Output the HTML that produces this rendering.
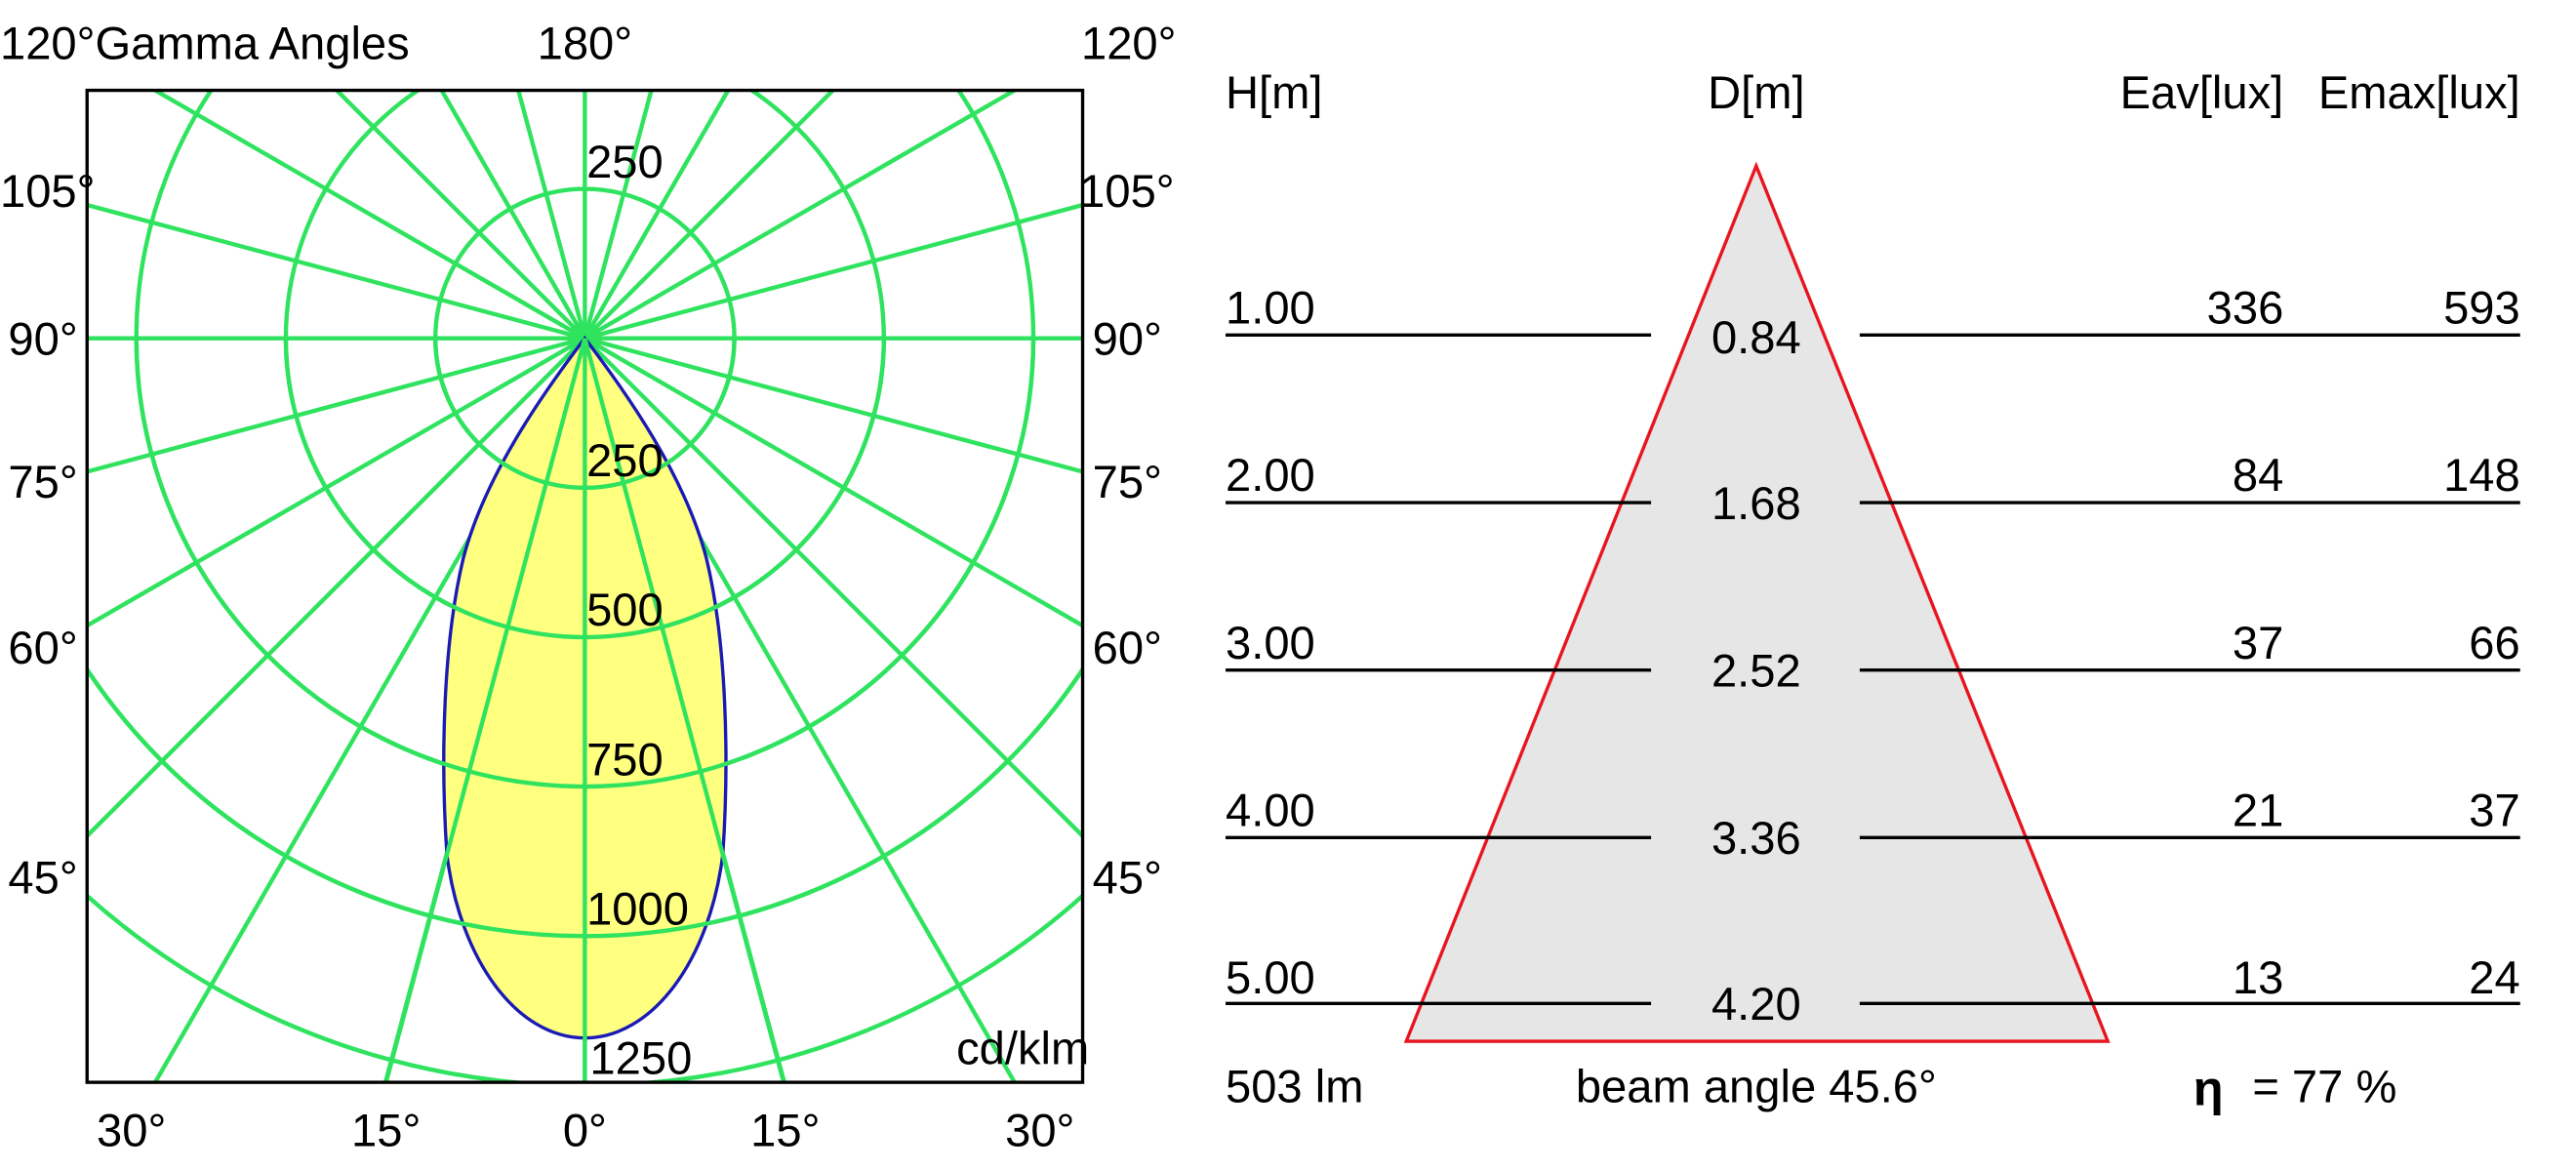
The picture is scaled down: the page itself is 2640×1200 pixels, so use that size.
<!DOCTYPE html>
<html><head><meta charset="utf-8"><style>
html,body{margin:0;padding:0;background:#fff;overflow:hidden;width:2640px;height:1200px;}
svg{display:block;}
text{font-family:"Liberation Sans",Arial,sans-serif;font-size:28px;fill:#000;}
</style></head><body>
<svg width="2640" height="1200" viewBox="0 0 1568 713" preserveAspectRatio="none" xmlns="http://www.w3.org/2000/svg">
<defs><clipPath id="c"><rect x="53" y="55" width="606" height="604"/></clipPath></defs>
<rect width="1568" height="713" fill="#fff"/>
<g clip-path="url(#c)" stroke="#2fe35f" stroke-width="2.6" fill="none">
<circle cx="356" cy="206" r="91"/><circle cx="356" cy="206" r="182"/><circle cx="356" cy="206" r="273"/><circle cx="356" cy="206" r="364"/><circle cx="356" cy="206" r="455"/>
<g id="sp">
<line x1="356" y1="206" x2="356" y2="1206"/>
<line x1="356" y1="206" x2="1356" y2="206"/>
<line x1="356" y1="206" x2="-644" y2="206"/>
<line x1="356" y1="206" x2="356" y2="-794"/>
</g>
<use href="#sp" transform="rotate(15 356 206)"/><use href="#sp" transform="rotate(30 356 206)"/><use href="#sp" transform="rotate(45 356 206)"/><use href="#sp" transform="rotate(60 356 206)"/><use href="#sp" transform="rotate(75 356 206)"/>
</g>
<path d="M356,206 C330,240 295,290 282,340 C270,390 268,460 272,520 C280,585 315,632 356,632 C397,632 432,585 440,520 C444,460 442,390 430,340 C417,290 382,240 356,206 Z" fill="#ffff80" stroke="#1a1ab4" stroke-width="2"/>
<g clip-path="url(#c)" stroke="#2fe35f" stroke-width="2.6" fill="none">
<line x1="356" y1="206" x2="356" y2="660"/>
<line x1="356" y1="206" x2="235" y2="659"/><line x1="356" y1="206" x2="477" y2="659"/>
<path d="M265,206 A91,91 0 0 0 447,206"/>
<path d="M174,206 A182,182 0 0 0 538,206"/>
<path d="M83,206 A273,273 0 0 0 629,206"/>
<circle cx="356" cy="206" r="364"/>
</g>
<rect x="53" y="55" width="606" height="604" fill="none" stroke="#000" stroke-width="2"/>
<text x="357" y="108">250</text><text x="357" y="290">250</text><text x="357" y="381">500</text><text x="357" y="472">750</text><text x="357" y="563">1000</text><text x="359" y="654">1250</text>
<text x="663" y="648" text-anchor="end">cd/klm</text>
<text x="0" y="36">120°Gamma Angles</text><text x="356" y="36" text-anchor="middle">180°</text><text x="716" y="36" text-anchor="end">120°</text>
<text x="0" y="126">105°</text><text x="5" y="216">90°</text><text x="5" y="303">75°</text><text x="5" y="404">60°</text><text x="5" y="544">45°</text>
<text x="657" y="126">105°</text><text x="665" y="216">90°</text><text x="665" y="303">75°</text><text x="665" y="404">60°</text><text x="665" y="544">45°</text>
<text x="80" y="698" text-anchor="middle">30°</text><text x="235" y="698" text-anchor="middle">15°</text><text x="356" y="698" text-anchor="middle">0°</text><text x="478" y="698" text-anchor="middle">15°</text><text x="633" y="698" text-anchor="middle">30°</text>
<polygon points="1069,101 856,634 1283,634" fill="#e6e6e6" stroke="#e8141e" stroke-width="2"/>
<g stroke="#000" stroke-width="2">
<line x1="746" y1="204" x2="1005" y2="204"/><line x1="1132" y1="204" x2="1534" y2="204"/>
<line x1="746" y1="306" x2="1005" y2="306"/><line x1="1132" y1="306" x2="1534" y2="306"/>
<line x1="746" y1="408" x2="1005" y2="408"/><line x1="1132" y1="408" x2="1534" y2="408"/>
<line x1="746" y1="510" x2="1005" y2="510"/><line x1="1132" y1="510" x2="1534" y2="510"/>
<line x1="746" y1="611" x2="1005" y2="611"/><line x1="1132" y1="611" x2="1534" y2="611"/>
</g>
<text x="746" y="66">H[m]</text><text x="1069" y="66" text-anchor="middle">D[m]</text><text x="1390" y="66" text-anchor="end">Eav[lux]</text><text x="1534" y="66" text-anchor="end">Emax[lux]</text>
<text x="746" y="197">1.00</text><text x="1069" y="215" text-anchor="middle">0.84</text><text x="1390" y="197" text-anchor="end">336</text><text x="1534" y="197" text-anchor="end">593</text>
<text x="746" y="299">2.00</text><text x="1069" y="316" text-anchor="middle">1.68</text><text x="1390" y="299" text-anchor="end">84</text><text x="1534" y="299" text-anchor="end">148</text>
<text x="746" y="401">3.00</text><text x="1069" y="418" text-anchor="middle">2.52</text><text x="1390" y="401" text-anchor="end">37</text><text x="1534" y="401" text-anchor="end">66</text>
<text x="746" y="503">4.00</text><text x="1069" y="520" text-anchor="middle">3.36</text><text x="1390" y="503" text-anchor="end">21</text><text x="1534" y="503" text-anchor="end">37</text>
<text x="746" y="605">5.00</text><text x="1069" y="621" text-anchor="middle">4.20</text><text x="1390" y="605" text-anchor="end">13</text><text x="1534" y="605" text-anchor="end">24</text>
<text x="746" y="671">503 lm</text><text x="1069" y="671" text-anchor="middle">beam angle 45.6°</text>
<text x="1335" y="673" style="font-weight:bold;font-size:30px">η</text><text x="1371" y="671">= 77 %</text>
</svg>
</body></html>
